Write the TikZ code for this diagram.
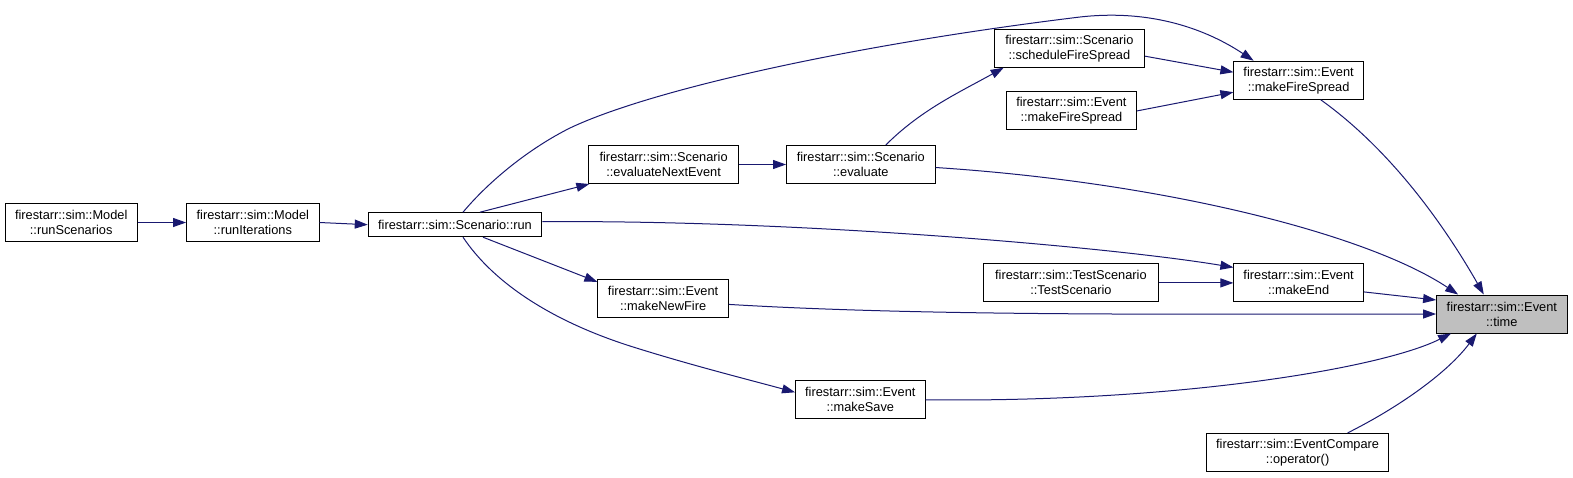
\documentclass[tikz,border=0pt]{standalone}
\usepackage{fontspec}
\setmainfont{Liberation Sans}
\usetikzlibrary{arrows.meta}
\definecolor{edgeblue}{HTML}{191970}
\definecolor{focusgray}{HTML}{BFBFBF}
\tikzset{
  box/.style={draw=black, line width=1pt, fill=white, inner sep=0pt, align=center,
    font=\fontsize{12.8}{15}\selectfont},
  focus/.style={box, fill=focusgray},
  wdt/.style={minimum width=#1pt},
  two/.style={minimum height=38pt},
  one/.style={minimum height=24pt},
  edge/.style={draw=edgeblue, line width=1pt, -{Triangle[length=13pt,width=9pt]}},
}
\begin{document}
\begin{tikzpicture}[x=1pt,y=-1pt]
\useasboundingbox (0,0) rectangle (1573,477);
% nodes
\node[box,two,wdt=132.4] (rs) at (71.2,222.5) {firestarr::sim::Model\\::runScenarios};
\node[box,two,wdt=132.4] (ri) at (252.8,222.5) {firestarr::sim::Model\\::runIterations};
\node[box,one,wdt=173.5] (run) at (455,224.7) {firestarr::sim::Scenario::run};
\node[box,two,wdt=149.5] (ene) at (663.6,164.5) {firestarr::sim::Scenario\\::evaluateNextEvent};
\node[box,two,wdt=148.5] (ev) at (860.8,164.5) {firestarr::sim::Scenario\\::evaluate};
\node[box,two,wdt=150.5] (sfs) at (1069.4,48.2) {firestarr::sim::Scenario\\::scheduleFireSpread};
\node[box,two,wdt=130.4] (mfsl) at (1071.4,110.9) {firestarr::sim::Event\\::makeFireSpread};
\node[box,two,wdt=129.4] (mfsr) at (1298.6,80.2) {firestarr::sim::Event\\::makeFireSpread};
\node[box,two,wdt=175.6] (ts) at (1070.9,282.9) {firestarr::sim::TestScenario\\::TestScenario};
\node[box,two,wdt=129.4] (me) at (1298.6,282.9) {firestarr::sim::Event\\::makeEnd};
\node[box,two,wdt=130.4] (mnf) at (663.1,298.4) {firestarr::sim::Event\\::makeNewFire};
\node[box,two,wdt=129.5] (ms) at (860.3,399.8) {firestarr::sim::Event\\::makeSave};
\node[focus,two,wdt=130.4] (time) at (1501.8,314) {firestarr::sim::Event\\::time};
\node[box,two,wdt=181.6] (ec) at (1297.6,452.4) {firestarr::sim::EventCompare\\::operator()};
% edges
\draw[edge] (rs.east) -- (ri.west);
\draw[edge] (ri.east) -- (run.west);
\draw[edge] ([xshift=25pt]run.north) -- ([xshift=1pt]ene.south west);
\draw[edge] ([xshift=8pt]run.north) .. controls (490,180) and (530,148) .. (570,128)
  .. controls (650,90) and (850,45) .. (1080,17)
  .. controls (1160,8) and (1215,35) .. ([xshift=-45pt]mfsr.north);
\draw[edge] ([yshift=3pt]run.east) .. controls +(260,-2) and +(-120,-20) .. ([yshift=-4pt]me.north west);
\draw[edge] ([xshift=28pt]run.south) -- ([yshift=-3pt]mnf.north west);
\draw[edge] ([xshift=8pt]run.south) .. controls (495,285) and (555,322) .. (630,346)
  .. controls (690,365) and (750,380) .. ([yshift=-12pt]ms.north west);
\draw[edge] (ene.east) -- (ev.west);
\draw[edge] ([xshift=25pt]ev.north) .. controls +(35,-35) and +(-45,25) .. ([xshift=10pt]sfs.south west);
\draw[edge] ([yshift=-3pt]ev.east) .. controls +(230,15) and +(-90,-60) .. ([xshift=22pt]time.north west);
\draw[edge] ([yshift=-8pt]sfs.east) -- ([yshift=8pt]mfsr.west);
\draw[edge] (mfsl.east) -- ([yshift=-12pt]mfsr.west);
\draw[edge] ([xshift=22pt]mfsr.south) .. controls +(70,50) and +(-40,-70) .. ([xshift=-18pt]time.north);
\draw[edge] (ts.east) -- (me.west);
\draw[edge] ([yshift=-9pt]me.east) -- ([yshift=14pt]time.west);
\draw[edge] ([yshift=-6pt]mnf.east) .. controls +(200,12) and +(-250,0) .. (time.west);
\draw[edge] (ms.east) .. controls +(250,3) and +(-70,35) .. ([xshift=15pt]time.south west);
\draw[edge] ([xshift=50pt]ec.north) .. controls +(50,-25) and +(-30,40) .. ([xshift=-25pt]time.south);
\end{tikzpicture}
\end{document}
